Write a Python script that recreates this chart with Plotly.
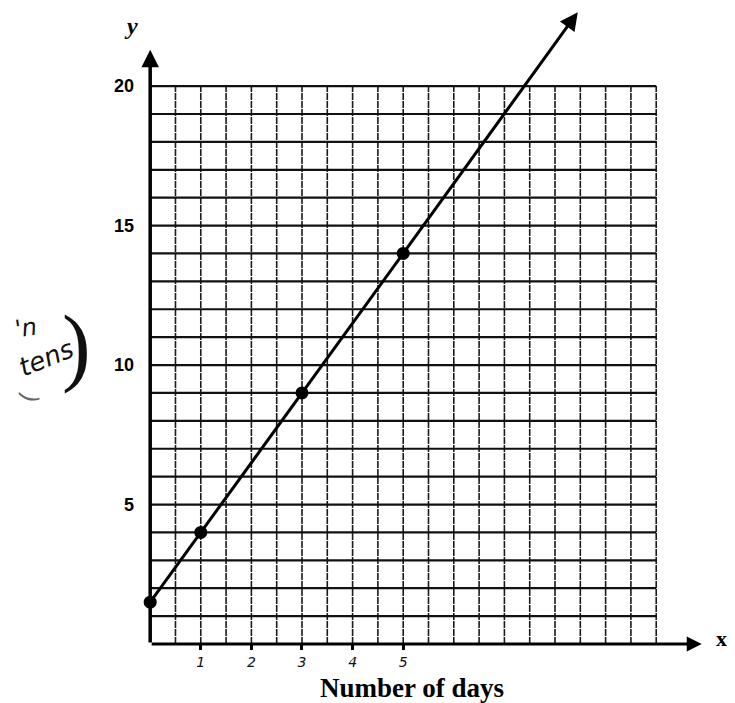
import plotly.graph_objects as go

# ---- data ----
days = [0, 1, 3, 5]
values = [1.5, 4, 9, 14]
arrow_tip = [8.45, 22.65]          # where the drawn line's arrowhead ends
x_tick_vals = [1, 2, 3, 4, 5]
x_tick_text = ["1", "2", "3", "4", "5"]
y_tick_vals = [5, 10, 15, 20]
y_tick_text = ["5", "10", "15", "20"]
grid_x = [0.5 * i for i in range(1, 21)]   # vertical grid lines (half days)
grid_y = list(range(1, 21))                 # horizontal grid lines

# ---- layout geometry (the page adds an 8px body margin) ----
OFF = 8
W, H = 735, 703
ML, MR, MT, MB = 127, 21, 0, 67
XR = [-0.3, 11.3]
YR = [0, 22.8]
PW = W - ML - MR
PH = H - MT - MB


def paper_x(px):
    return (px - OFF - ML) / PW


def paper_y(py):
    return (H - MB - (py - OFF)) / PH


def note(px, py, text, size, angle=0, family="DejaVu Sans", color="#111"):
    return dict(x=paper_x(px), y=paper_y(py), xref="paper", yref="paper", text=text,
                xanchor="center", yanchor="middle", showarrow=False, textangle=angle,
                font=dict(family=family, size=size, color=color))


fig = go.Figure()

fig.add_trace(go.Scatter(
    x=days, y=values, mode="lines+markers",
    line=dict(color="black", width=3),
    marker=dict(color="black", size=13),
    cliponaxis=False, showlegend=False, hoverinfo="x+y",
))

shapes = []
for gx in grid_x:
    shapes.append(dict(type="line", xref="x", yref="y", x0=gx, x1=gx, y0=0, y1=20,
                       line=dict(color="#1a1a1a", width=1.6, dash="7px,1px"), layer="below"))
for gy in grid_y:
    shapes.append(dict(type="line", xref="x", yref="y", x0=0, x1=10, y0=gy, y1=gy,
                       line=dict(color="#111", width=2.2), layer="below"))

annotations = [
    # y axis with arrow
    dict(x=0, y=21.3, ax=0, ay=0, xref="x", yref="y", axref="x", ayref="y",
         text="", showarrow=True, arrowhead=2, arrowsize=1, arrowwidth=3.5, arrowcolor="black"),
    # x axis with arrow
    dict(x=10.9, y=0, ax=0, ay=0, xref="x", yref="y", axref="x", ayref="y",
         text="", showarrow=True, arrowhead=2, arrowsize=1, arrowwidth=3, arrowcolor="black"),
    # extension of the data line with arrowhead
    dict(x=arrow_tip[0], y=arrow_tip[1], ax=days[-1], ay=values[-1],
         xref="x", yref="y", axref="x", ayref="y",
         text="", showarrow=True, arrowhead=2, arrowsize=1.2, arrowwidth=3, arrowcolor="black"),
    # axis letters
    note(131, 26, "<b><i>y</i></b>", 24, family="Liberation Serif", color="black"),
    note(721, 638, "<b>x</b>", 22, family="Liberation Serif", color="black"),
    # x axis title
    note(412, 688, "<b>Number of days</b>", 27, family="Liberation Serif", color="black"),
    # handwritten note
    note(26, 328, "<i>'n</i>", 24, angle=-8),
    note(46, 358, "<i>tens</i>", 26, angle=-22),
    note(76, 346, ")", 86, family="Liberation Serif"),
    note(28, 398, "(", 24, angle=-75, color="#666"),
]

fig.update_layout(
    width=W, height=H,
    margin=dict(l=ML, r=MR, t=MT, b=MB, autoexpand=False),
    paper_bgcolor="white", plot_bgcolor="white",
    shapes=shapes, annotations=annotations,
    xaxis=dict(range=XR, showgrid=False, zeroline=False, showline=False,
               tickvals=x_tick_vals, ticktext=x_tick_text,
               ticks="outside", ticklen=5, tickwidth=2.5, tickcolor="black",
               tickfont=dict(family="DejaVu Sans", size=14, color="#111", style="italic")),
    yaxis=dict(range=YR, showgrid=False, zeroline=False, showline=False,
               tickvals=y_tick_vals, ticktext=y_tick_text, ticks="",
               tickfont=dict(family="Liberation Sans", size=18, color="black", weight="bold")),
)

fig.write_html("out.html")
